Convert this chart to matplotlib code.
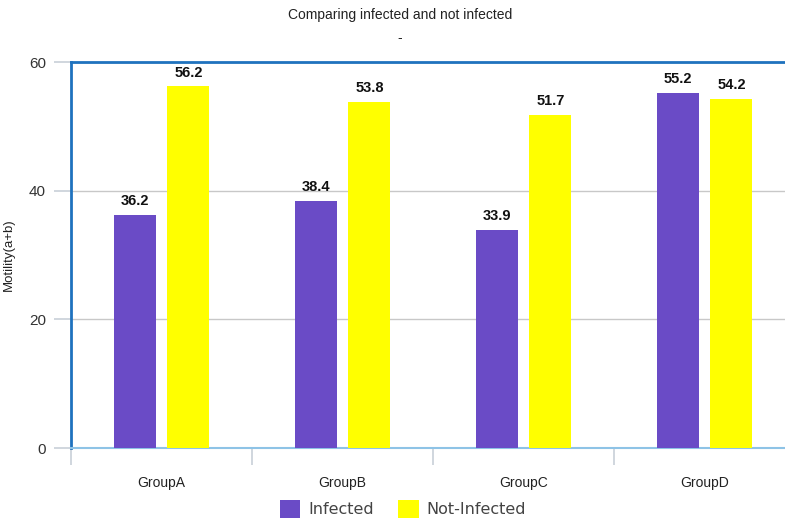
import matplotlib
matplotlib.use("Agg")
import matplotlib.pyplot as plt
import numpy as np
from matplotlib.patches import Patch

categories = ["GroupA", "GroupB", "GroupC", "GroupD"]
infected = [36.2, 38.4, 33.9, 55.2]
not_infected = [56.2, 53.8, 51.7, 54.2]
series_names = ["Infected", "Not-Infected"]
title = "Comparing infected and not infected"
subtitle = "-"
ylabel = "Motility(a+b)"
yticks = [0, 20, 40, 60]

purple = "#6A4BC6"
yellow = "#FFFF00"
frame_blue = "#1F72BE"
light_blue = "#8EC3E6"

fig = plt.figure(figsize=(7.85, 5.19), dpi=100)
ax = fig.add_axes([71/785, 71/519, 724/785, 386/519])

x = np.arange(len(categories))
w = 0.232
off = 0.149
b1 = ax.bar(x - off, infected, w, color=purple, zorder=3)
b2 = ax.bar(x + off, not_infected, w, color=yellow, zorder=3)

for bars, vals in ((b1, infected), (b2, not_infected)):
    for r, v in zip(bars, vals):
        ax.annotate(f"{v:.1f}", (r.get_x() + r.get_width()/2, v),
                    xytext=(0, 5), textcoords="offset points",
                    ha="center", va="bottom", fontsize=10.5, fontweight="bold",
                    color="#111111", family="Liberation Sans")

ax.set_xlim(-0.5, len(categories) - 0.5)
ax.set_ylim(0, 60)
ax.set_yticks(yticks)
ax.set_yticklabels([str(t) for t in yticks], fontsize=11, color="#333333",
                   family="Liberation Sans")
ax.grid(axis="y", color="#C8C8C8", linewidth=1, zorder=0)

ax.set_xticks(np.arange(len(categories) + 1) - 0.5, minor=False)
ax.set_xticklabels([])
ax.set_xticks(x, minor=True)
ax.set_xticklabels(categories, minor=True, fontsize=10, color="#222222",
                   family="Liberation Sans")
ax.tick_params(axis="x", which="major", length=12, color="#C8D0D8", width=1.2)
ax.tick_params(axis="x", which="minor", length=0, pad=20)
ax.tick_params(axis="y", length=12, color="#C8D0D8", width=1.2, pad=6)

for s in ("left", "top"):
    ax.spines[s].set_color(frame_blue)
    ax.spines[s].set_linewidth(2)
ax.spines["right"].set_visible(False)
ax.spines["bottom"].set_color(light_blue)
ax.spines["bottom"].set_linewidth(1.5)

ax.set_ylabel(ylabel, fontsize=9.5, color="#222222", family="Liberation Sans")
ax.yaxis.set_label_coords(-56/724, 0.5)

fig.text(400/785, 1 - 15/519, title, ha="center", va="center", fontsize=10,
         color="#222222", family="Liberation Sans")
fig.text(400/785, 1 - 38/519, subtitle, ha="center", va="center", fontsize=10,
         color="#222222", family="Liberation Sans")

handles = [Patch(facecolor=purple), Patch(facecolor=yellow)]
fig.legend(handles, series_names, loc="center", bbox_to_anchor=(403/785, 1 - 509/519),
           ncol=2, frameon=False, fontsize=11.5, handlelength=1.3, handleheight=1.3,
           columnspacing=1.5, handletextpad=0.5, labelcolor="#444444")

fig.savefig("out.png", dpi=100)
